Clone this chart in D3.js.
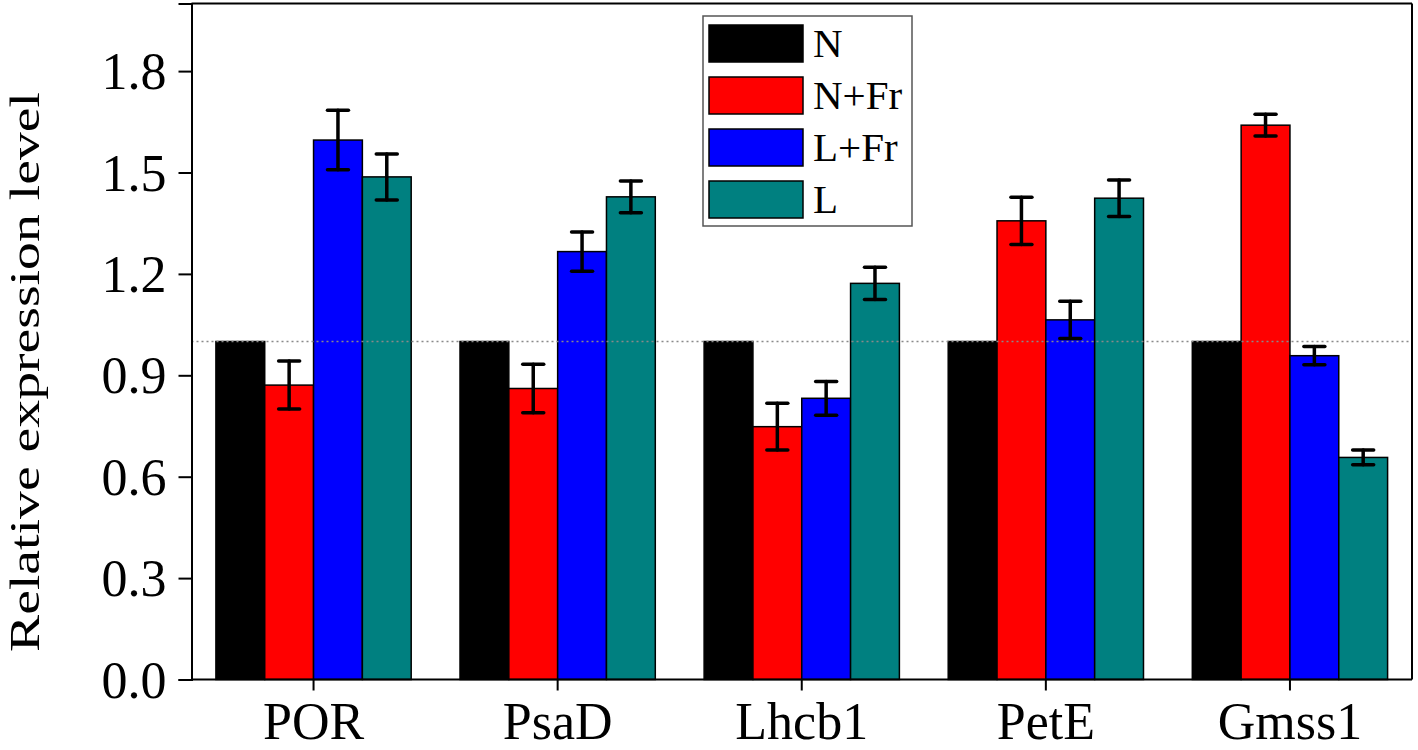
<!DOCTYPE html>
<html>
<head>
<meta charset="utf-8">
<script src="https://cdn.jsdelivr.net/npm/d3@7"></script>
<style>
  body { margin: 0; background: #fff; }
  svg { display: block; }
  text { font-family: "Liberation Serif", "Times New Roman", serif; fill: #000; }
</style>
</head>
<body>
<svg id="chart" width="1418" height="750"></svg>
<script>
const categories = ["POR", "PsaD", "Lhcb1", "PetE", "Gmss1"];
const seriesNames = ["N", "N+Fr", "L+Fr", "L"];
const seriesColors = ["#000000", "#ff0000", "#0000ff", "#008080"];
const valuesN   = [1.0, 1.0, 1.0, 1.0, 1.0];
const valuesNFr = [0.871, 0.861, 0.748, 1.357, 1.640];
const valuesLFr = [1.596, 1.266, 0.832, 1.064, 0.958];
const valuesL   = [1.487, 1.428, 1.172, 1.424, 0.657];
const errN   = [0, 0, 0, 0, 0];
const errNFr = [0.071, 0.072, 0.069, 0.070, 0.032];
const errLFr = [0.088, 0.058, 0.050, 0.055, 0.027];
const errL   = [0.068, 0.047, 0.048, 0.054, 0.022];
const yTicks = [0.0, 0.3, 0.6, 0.9, 1.2, 1.5, 1.8];
const refLine = 1.0;

const seriesVals = [valuesN, valuesNFr, valuesLFr, valuesL];
const seriesErr = [errN, errNFr, errLFr, errL];

const svg = d3.select("#chart");
const L = 191.5, R = 1412, T = 3.5, B = 679.5;

const x0 = d3.scaleBand().domain(categories).range([L, R]).paddingInner(0.2).paddingOuter(0.1);
const x1 = d3.scaleBand().domain(seriesNames).range([0, x0.bandwidth()]).padding(0);
const y = d3.scaleLinear().domain([0, 2.0]).range([B, T]);

// bars
const data = [];
categories.forEach((c, i) => {
  seriesNames.forEach((s, j) => {
    data.push({ c, s, j, v: seriesVals[j][i], e: seriesErr[j][i] });
  });
});

svg.append("g").selectAll("rect").data(data).join("rect")
  .attr("x", d => x0(d.c) + x1(d.s))
  .attr("y", d => y(d.v))
  .attr("width", x1.bandwidth())
  .attr("height", d => y(0) - y(d.v))
  .attr("fill", d => seriesColors[d.j])
  .attr("stroke", "#000")
  .attr("stroke-width", 1.5);

// reference dotted line
svg.append("line")
  .attr("x1", L).attr("x2", R)
  .attr("y1", y(refLine)).attr("y2", y(refLine))
  .attr("stroke", "#8a8a8a").attr("stroke-width", 1.5)
  .attr("stroke-dasharray", "2,3");

// error bars
const eg = svg.append("g").attr("stroke", "#000").attr("stroke-width", 3.5).attr("stroke-linecap", "round");
data.filter(d => d.e > 0).forEach(d => {
  const cx = x0(d.c) + x1(d.s) + x1.bandwidth() / 2;
  eg.append("line").attr("x1", cx).attr("x2", cx).attr("y1", y(d.v + d.e)).attr("y2", y(d.v - d.e));
  eg.append("line").attr("x1", cx - 10.5).attr("x2", cx + 10.5).attr("y1", y(d.v + d.e)).attr("y2", y(d.v + d.e));
  eg.append("line").attr("x1", cx - 10.5).attr("x2", cx + 10.5).attr("y1", y(d.v - d.e)).attr("y2", y(d.v - d.e));
});

// frame
svg.append("line").attr("x1", L).attr("x2", R).attr("y1", T).attr("y2", T).attr("stroke", "#000").attr("stroke-width", 2);
svg.append("line").attr("x1", R).attr("x2", R).attr("y1", T).attr("y2", B).attr("stroke", "#000").attr("stroke-width", 2);

// y axis
const yAxis = svg.append("g").attr("transform", `translate(${L},0)`)
  .call(d3.axisLeft(y).tickValues(yTicks).tickFormat(d3.format(".1f")).tickSizeOuter(0).tickSize(13).tickPadding(12));
yAxis.select(".domain").attr("stroke-width", 2);
yAxis.selectAll(".tick line").attr("stroke-width", 2);
yAxis.selectAll(".tick text").style("font-size", "52px").attr("dy", "0.34em");

// x axis
const xAxis = svg.append("g").attr("transform", `translate(0,${B})`)
  .call(d3.axisBottom(x0).tickSizeOuter(0).tickSize(11).tickPadding(12));
xAxis.select(".domain").attr("stroke-width", 2).attr("d", `M${L},0H${R}`);
xAxis.selectAll(".tick line").attr("stroke-width", 2);
xAxis.selectAll(".tick text").style("font-size", "52px").attr("dy", "0.71em");

// y title
svg.append("text")
  .attr("transform", `translate(39,372) rotate(-90)`)
  .attr("text-anchor", "middle")
  .attr("textLength", 560)
  .attr("lengthAdjust", "spacingAndGlyphs")
  .style("font-size", "42px")
  .text("Relative expression level");

// legend
const lg = svg.append("g");
lg.append("rect").attr("x", 703).attr("y", 16).attr("width", 209).attr("height", 210)
  .attr("fill", "#fff").attr("stroke", "#555").attr("stroke-width", 1.5);
seriesNames.forEach((s, j) => {
  const yy = 25 + j * 52;
  lg.append("rect").attr("x", 709).attr("y", yy).attr("width", 94).attr("height", 37)
    .attr("fill", seriesColors[j]).attr("stroke", "#000").attr("stroke-width", 1.5);
  lg.append("text").attr("x", 813).attr("y", yy + 32).style("font-size", "41px").text(s);
});
</script>
</body>
</html>
